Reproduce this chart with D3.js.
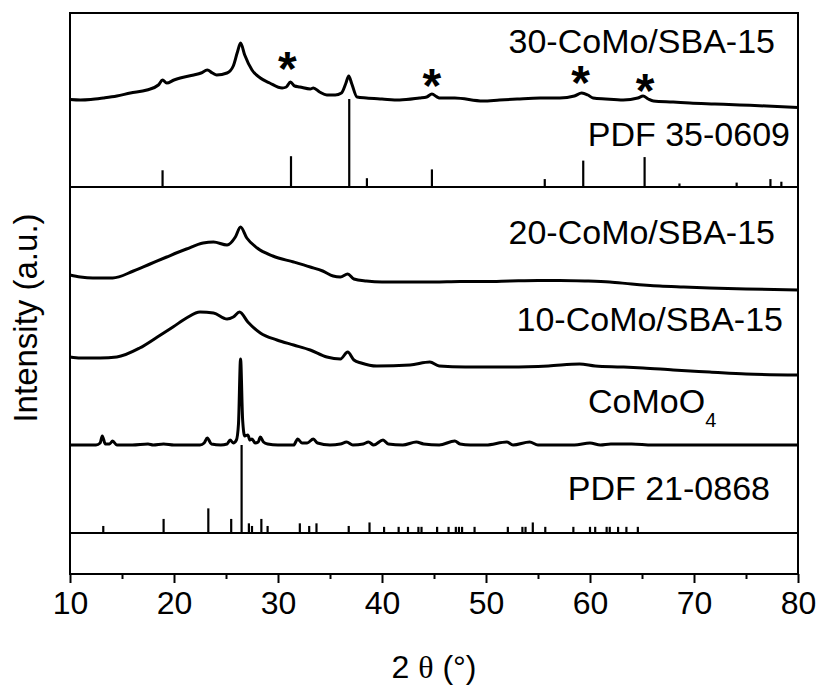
<!DOCTYPE html>
<html>
<head>
<meta charset="utf-8">
<script src="https://cdn.jsdelivr.net/npm/d3@7"></script>
<style>
  body { margin: 0; background: #fff; }
  svg text { font-family: "Liberation Sans", Arial, sans-serif; fill: #000; }
</style>
</head>
<body>
<svg id="chart" width="820" height="686"></svg>
<script>
// XRD patterns, intensity in arbitrary units above each trace's own baseline
const tt30  = [10, 11, 12, 13.2, 14.5, 15.8, 17.4, 18.5, 18.9, 19.3, 20, 20.6, 21.9, 22.6, 23.2, 23.7, 24.1, 25.1, 25.7, 26.1, 26.4, 26.8, 27.5, 28.3, 29.2, 30.4, 30.8, 31.2, 31.6, 32.1, 33.1, 33.4, 34, 34.7, 35.5, 36.1, 36.5, 36.8, 37.1, 37.6, 38.5, 40, 41.7, 43.6, 44.3, 44.8, 45.3, 45.6, 47, 49.7, 51.3, 53, 55.2, 57.1, 58.5, 59.2, 59.8, 60.3, 61.5, 63.2, 64.6, 65.1, 65.6, 66.1, 68, 69.6, 72, 74.4, 77, 80];
const int30 = [10.5, 10, 10.5, 12, 14, 17, 20, 25, 30, 27, 30, 32, 35, 37, 40, 37, 35, 37, 44, 58, 67, 55, 40, 32, 27, 22, 23, 28, 24, 23, 21, 22, 18, 15, 15, 17, 26, 34, 26, 13, 12, 11, 10, 12, 13, 16, 13, 12, 12, 9, 10, 11, 12, 12, 14, 17, 15, 12, 11, 10, 12, 14, 11, 9, 8, 7, 6, 5, 4, 2.5];

const tt20  = [10, 11, 12.2, 14.1, 16.1, 17.7, 19.3, 21.2, 22.8, 23.8, 25.1, 25.9, 26.4, 27, 28, 29.5, 31.5, 33.1, 34.3, 35.3, 36, 36.7, 37.3, 38.5, 40, 42.7, 45, 47.5, 50, 52.3, 55, 57.1, 59.5, 61.9, 64, 66.7, 69, 71.5, 75, 80];
const int20 = [17, 15, 14, 14, 21, 28, 35, 43, 49, 50, 47, 55, 65, 54, 44, 36, 30, 25, 21, 16, 15, 18, 13, 11, 10, 10, 10, 10.5, 10.5, 11, 11.5, 11.5, 11, 10, 8, 6, 5, 4, 3, 2];

const tt10  = [10, 11, 12.9, 14.5, 16.7, 18.4, 19.9, 21.2, 22.5, 23.8, 25.1, 25.7, 26.3, 27.1, 28.3, 29.9, 31.5, 33.1, 34.7, 36, 36.7, 37.3, 38, 39.5, 42.7, 44.6, 45.5, 48, 52.3, 56, 59, 60.5, 63, 65.1, 68, 71.5, 75, 80];
const int10 = [21, 20, 20, 21, 30, 41, 51, 60, 66, 65, 59, 61, 66, 56, 45, 38, 33, 28, 21, 19, 26, 18, 15, 12, 13, 16, 12, 11, 11, 12, 14, 12, 11, 10, 8, 6, 4, 3];

const ttCoMoO4  = [10, 12.5, 12.9, 13.1, 13.4, 13.8, 14.1, 14.5, 16, 17.5, 18, 19, 20, 22.5, 22.9, 23.2, 23.6, 24.5, 25.1, 25.4, 25.7, 26, 26.2, 26.4, 26.6, 26.8, 27.1, 27.3, 27.5, 27.8, 28.1, 28.3, 28.6, 29, 30, 31.5, 31.9, 32.3, 32.8, 33.4, 33.8, 35, 36, 36.6, 37.2, 38.2, 38.7, 39.2, 40.1, 40.6, 42, 43.3, 44, 45.5, 47, 47.5, 48.5, 50, 52, 52.6, 54.2, 55, 57, 58.5, 60, 61, 62, 64, 66, 70, 75, 80];
const intCoMoO4 = [1, 1, 3, 10, 2, 2, 5, 1, 1, 2, 1, 2, 1, 1, 3, 8, 2, 1, 2, 6, 3, 6, 22, 87, 26, 10, 11, 6, 7, 3, 4, 9, 4, 2, 1, 1, 7, 3, 3, 7, 3, 1, 2, 4, 1, 2, 4, 1, 6, 2, 1, 4, 2, 1, 5, 2, 1, 1, 4, 1, 4, 1, 1, 1, 3, 1, 2, 2, 1, 1, 1, 1];

// reference patterns (relative intensity, %)
const pdf35Pos = [18.9, 31.25, 36.85, 38.55, 44.8, 55.65, 59.35, 65.25, 68.6, 74.1, 77.35, 78.4];
const pdf35Int = [19, 35, 100, 10, 20, 9, 30, 34, 4, 5, 9, 6];

const pdf21Pos = [13.2, 19.0, 23.3, 25.5, 26.5, 27.2, 27.5, 28.4, 29.0, 32.1, 33.0, 33.7, 36.8, 38.8, 40.2, 41.6, 42.5, 43.5, 43.8, 45.3, 46.4, 47.1, 47.4, 47.7, 48.9, 52.1, 53.5, 53.8, 54.5, 55.7, 58.4, 60.0, 60.5, 61.6, 61.9, 62.7, 63.5, 64.6];
const pdf21Int = [8, 16, 28, 16, 100, 11, 8, 16, 8, 11, 8, 11, 8, 12, 7, 7, 7, 7, 7, 7, 7, 7, 7, 7, 7, 7, 7, 7, 12, 7, 7, 7, 7, 7, 7, 7, 7, 7];

const xTicks = [10, 20, 30, 40, 50, 60, 70, 80];
const starPos = [30.9, 44.8, 59.1, 65.3];

const svg = d3.select('#chart');
const mLeft = 70, mRight = 798, mTop = 13, mBottom = 574;

const x = d3.scaleLinear().domain([10, 80]).range([mLeft, mRight]);
const y = d3.scaleLinear().domain([0, 561]).range([mBottom, mTop]);
const stickScale = d3.scaleLinear().domain([0, 100]).range([0, 88]);

// vertical offsets of each trace (same units as y)
const off30 = 464, off35 = 387, off20 = 282, off10 = 196, offCo = 128, off21 = 41;

const line = d3.line()
    .x(d => x(d[0]))
    .y(d => y(d[1]))
    .curve(d3.curveMonotoneX);

function drawTrace(tt, ints, offset) {
    const pts = tt.map((t, i) => [t, ints[i] + offset]);
    svg.append('path')
        .datum(pts)
        .attr('fill', 'none')
        .attr('stroke', '#000')
        .attr('stroke-width', 3)
        .attr('stroke-linejoin', 'round')
        .attr('d', line);
}

function drawSticks(pos, ints, offset) {
    svg.append('line')
        .attr('x1', mLeft).attr('x2', mRight)
        .attr('y1', y(offset)).attr('y2', y(offset))
        .attr('stroke', '#000').attr('stroke-width', 2);
    svg.append('g').selectAll('line')
        .data(pos.map((p, i) => [p, ints[i]]))
        .join('line')
        .attr('x1', d => x(d[0])).attr('x2', d => x(d[0]))
        .attr('y1', y(offset))
        .attr('y2', d => y(offset) - stickScale(d[1]))
        .attr('stroke', '#000')
        .attr('stroke-width', 2.2);
}

drawTrace(tt30, int30, off30);
drawSticks(pdf35Pos, pdf35Int, off35);
drawTrace(tt20, int20, off20);
drawTrace(tt10, int10, off10);
drawTrace(ttCoMoO4, intCoMoO4, offCo);
drawSticks(pdf21Pos, pdf21Int, off21);

// asterisks over the Co3O4 reflections
const starY = [58, 75, 72, 80];
svg.append('g').selectAll('text')
    .data(starPos)
    .join('text')
    .attr('x', d => x(d))
    .attr('y', (d, i) => starY[i] + 27)
    .attr('text-anchor', 'middle')
    .style('font-size', '48px')
    .style('font-weight', 'bold')
    .text('*');

// frame
svg.append('rect')
    .attr('x', mLeft).attr('y', mTop)
    .attr('width', mRight - mLeft).attr('height', mBottom - mTop)
    .attr('fill', 'none').attr('stroke', '#000').attr('stroke-width', 2);

// x axis
const xAxis = svg.append('g')
    .attr('transform', `translate(0,${mBottom})`)
    .call(d3.axisBottom(x).tickValues(xTicks).tickSize(9).tickPadding(8).tickFormat(d3.format('d')));
xAxis.select('.domain').remove();
xAxis.selectAll('.tick line').attr('stroke-width', 2);
xAxis.selectAll('.tick text')
    .style('font-size', '32px')
    .style('font-family', '"Liberation Sans", Arial, sans-serif');

const minor = svg.append('g')
    .attr('transform', `translate(0,${mBottom})`)
    .call(d3.axisBottom(x).tickValues(d3.range(15, 80, 10)).tickSize(5).tickFormat(''));
minor.select('.domain').remove();
minor.selectAll('.tick line').attr('stroke-width', 2);

// titles
const xt = svg.append('text')
    .attr('x', (mLeft + mRight) / 2).attr('y', 678)
    .attr('text-anchor', 'middle')
    .style('font-size', '32px');
xt.append('tspan').text('2 ');
xt.append('tspan').style('font-family', '"Liberation Serif", "Times New Roman", serif').text('θ');
xt.append('tspan').text(' (°)');

svg.append('text')
    .attr('transform', 'translate(37,318) rotate(-90)')
    .attr('text-anchor', 'middle')
    .style('font-size', '33px')
    .text('Intensity (a.u.)');

// sample labels
const labels = [
    { t: '30-CoMo/SBA-15', x: 775, y: 53 },
    { t: 'PDF 35-0609', x: 790, y: 146 },
    { t: '20-CoMo/SBA-15', x: 775, y: 244 },
    { t: '10-CoMo/SBA-15', x: 783, y: 331 },
    { t: 'PDF 21-0868', x: 770, y: 500 }
];
svg.append('g').selectAll('text')
    .data(labels)
    .join('text')
    .attr('x', d => d.x).attr('y', d => d.y)
    .attr('text-anchor', 'end')
    .style('font-size', '34px')
    .text(d => d.t);

const co = svg.append('text')
    .attr('x', 588).attr('y', 413)
    .style('font-size', '34px');
co.append('tspan').text('CoMoO');
co.append('tspan').attr('dy', 14).style('font-size', '20px').text('4');
</script>
</body>
</html>
